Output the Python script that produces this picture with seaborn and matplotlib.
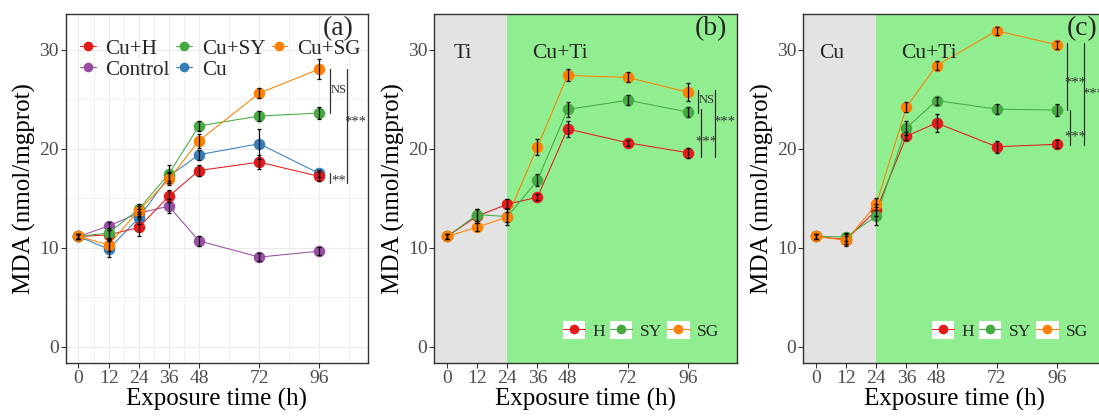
import numpy as np
import pandas as pd
import matplotlib
matplotlib.use("Agg")
import matplotlib.pyplot as plt
import seaborn as sns
from matplotlib.lines import Line2D
from matplotlib.patches import Rectangle
from matplotlib.legend_handler import HandlerTuple

# ---------------- data ----------------
times = [0, 12, 24, 36, 48, 72, 96]
xtick_labels = ["0", "12", "24", "36", "48", "72", "96"]

# panel (a)
a_groups = ["Control", "Cu", "Cu+H", "Cu+SY", "Cu+SG"]
a_control = [11.14, 12.2, 13.5, 14.2, 10.7, 9.06, 9.66]
a_control_err = [0.3, 0.4, 0.4, 0.7, 0.5, 0.4, 0.4]
a_cu = [11.14, 9.87, 13.0, 17.2, 19.4, 20.5, 17.5]
a_cu_err = [0.3, 0.8, 0.6, 0.5, 0.5, 1.5, 0.4]
a_cu_h = [11.14, 11.3, 12.05, 15.2, 17.8, 18.65, 17.2]
a_cu_h_err = [0.3, 0.5, 0.9, 0.6, 0.6, 0.7, 0.5]
a_cu_sy = [11.14, 11.5, 13.9, 17.45, 22.3, 23.3, 23.6]
a_cu_sy_err = [0.3, 0.5, 0.5, 0.9, 0.5, 0.5, 0.6]
a_cu_sg = [11.14, 10.3, 13.75, 16.9, 20.8, 25.6, 28.05]
a_cu_sg_err = [0.3, 0.6, 0.5, 0.6, 0.7, 0.5, 1.0]

# panel (b)
bc_groups = ["H", "SY", "SG"]
b_h = [11.14, 13.2, 14.4, 15.1, 22.0, 20.6, 19.6]
b_h_err = [0.3, 0.7, 0.5, 0.3, 0.8, 0.3, 0.5]
b_sy = [11.14, 13.35, 13.15, 16.8, 23.96, 24.9, 23.7]
b_sy_err = [0.3, 0.6, 0.9, 0.6, 0.8, 0.5, 0.5]
b_sg = [11.14, 12.08, 13.1, 20.17, 27.4, 27.2, 25.7]
b_sg_err = [0.3, 0.4, 0.5, 0.8, 0.6, 0.5, 0.9]

# panel (c)
c_h = [11.14, 10.83, 13.8, 21.26, 22.6, 20.2, 20.45]
c_h_err = [0.3, 0.6, 0.6, 0.4, 0.9, 0.6, 0.4]
c_sy = [11.14, 11.1, 13.2, 22.1, 24.86, 24.0, 23.9]
c_sy_err = [0.3, 0.4, 0.9, 0.7, 0.4, 0.5, 0.6]
c_sg = [11.14, 10.76, 14.4, 24.2, 28.4, 31.9, 30.5]
c_sg_err = [0.3, 0.4, 0.6, 0.5, 0.5, 0.4, 0.4]

# significance brackets: (x, y_top, y_bottom, label, label_x, label_y)
a_sig = [(100.2, 28.0, 23.56, "NS", 103.6, 25.9),
         (107.0, 28.0, 16.5, "***", 110.4, 23.0),
         (100.2, 17.6, 16.5, "**", 103.5, 17.1)]
b_sig = [(100.0, 25.97, 23.56, "NS", 103.3, 24.9),
         (101.1, 24.06, 19.13, "***", 103.3, 21.0),
         (106.9, 25.97, 19.13, "***", 110.4, 23.0)]
c_sig = [(100.0, 30.67, 23.95, "***", 103.4, 27.0),
         (101.0, 23.95, 20.38, "***", 103.4, 21.5),
         (106.9, 30.67, 20.38, "***", 110.4, 25.9)]

yticks = [0, 10, 20, 30]

# ---------------- style ----------------
sns.set_style("white")
plt.rcParams["font.family"] = ["Liberation Serif", "DejaVu Serif"]

colors = {"Control": "#984EA3", "Cu": "#377EB8", "Cu+H": "#E41A1C",
          "Cu+SY": "#45AA3F", "Cu+SG": "#FF7F00",
          "H": "#E41A1C", "SY": "#45AA3F", "SG": "#FF7F00"}

W, H = 1099, 417
fig = plt.figure(figsize=(W / 100, H / 100), dpi=100)

ax_h = (362.7 - 14) / H
ax_b = 1 - 362.7 / H
ax_w = 302.6 / W
axA = fig.add_axes([65.7 / W, ax_b, ax_w, ax_h])
axB = fig.add_axes([434.3 / W, ax_b, ax_w, ax_h])
axC = fig.add_axes([803.3 / W, ax_b, ax_w, ax_h])

MS = 8.3
LW = 0.75


def make_df(groups, vals, errs):
    rows = []
    for g, v, e in zip(groups, vals, errs):
        for t, vv, ee in zip(times, v, e):
            rows.append({"time": t, "mda": vv, "err": ee, "group": g})
    return pd.DataFrame(rows)


def draw_series(ax, df, groups):
    sns.lineplot(data=df, x="time", y="mda", hue="group", hue_order=groups,
                 palette=colors, marker="o", markersize=MS, markeredgewidth=0,
                 linewidth=LW, legend=False, errorbar=None, sort=False, ax=ax,
                 zorder=3)
    for g in groups:
        d = df[df.group == g]
        ax.errorbar(d.time, d.mda, yerr=d.err, fmt="none", ecolor="black",
                    elinewidth=0.9, capsize=1.2, capthick=0.9, zorder=4)


def style_axes(ax):
    ax.set_xlim(-5.1, 115.5)
    ax.set_ylim(-1.6, 33.6)
    ax.set_xticks(times)
    ax.set_xticklabels(xtick_labels)
    ax.set_yticks(yticks)
    ax.tick_params(axis="both", which="major", direction="out", length=3.5,
                   width=0.8, color="#333333", labelcolor="#4D4D4D",
                   labelsize=14, pad=1.5, left=True, bottom=True)
    for s in ax.spines.values():
        s.set_color("#333333")
        s.set_linewidth(1.0)
        s.set_zorder(10)
    ax.set_xlabel("Exposure time (h)", fontsize=18, color="black", labelpad=1)
    ax.set_ylabel("MDA (nmol/mgprot)", fontsize=18, color="black", labelpad=2)


def draw_sig(ax, sig):
    for x, y0, y1, lab, lx, ly in sig:
        ax.plot([x, x], [y0, y1], color="#333333", lw=0.9, zorder=5,
                clip_on=False)
        fs = 9 if lab == "NS" else 10.5
        dy = 0 if lab == "NS" else -0.35
        ax.text(lx, ly + dy, lab, fontsize=fs, ha="center", va="center",
                color="#333333", zorder=5, clip_on=False)


# ---------------- panel (a) ----------------
dfa = make_df(a_groups, [a_control, a_cu, a_cu_h, a_cu_sy, a_cu_sg],
              [a_control_err, a_cu_err, a_cu_h_err, a_cu_sy_err, a_cu_sg_err])
axA.set_facecolor("white")
for y in [0, 10, 20, 30]:
    axA.axhline(y, color="#EBEBEB", lw=0.8, zorder=0)
for y in [5, 15, 25]:
    axA.axhline(y, color="#EBEBEB", lw=0.45, zorder=0)
for x in times:
    axA.axvline(x, color="#EBEBEB", lw=0.8, zorder=0)
for x in [6, 18, 30, 42, 60, 84, 108]:
    axA.axvline(x, color="#EBEBEB", lw=0.45, zorder=0)
draw_series(axA, dfa, a_groups)
style_axes(axA)
draw_sig(axA, a_sig)
axA.text(103.6, 32.1, "(a)", fontsize=20, ha="center", va="center", zorder=6)

leg_order = ["Cu+H", "Control", "Cu+SY", "Cu", "Cu+SG"]
handles = [Line2D([], [], color=colors[g], marker="o", markersize=7,
                  markeredgewidth=0, lw=LW) for g in leg_order]
axA.legend(handles, leg_order, ncol=3, loc="upper left",
           bbox_to_anchor=(0.048, 0.928), frameon=False, fontsize=15.2,
           handlelength=0.75, handletextpad=0.45, columnspacing=0.3,
           labelspacing=0.05, borderpad=0, borderaxespad=0)

# ---------------- panels (b) & (c) ----------------
def draw_bc(ax, vals, errs, left_label, sig, panel_label, plx):
    ax.axvspan(-20, 24, color="#E3E3E3", lw=0, zorder=0)
    ax.axvspan(24, 130, color="#90EE90", lw=0, zorder=0)
    df = make_df(bc_groups, vals, errs)
    draw_series(ax, df, bc_groups)
    style_axes(ax)
    draw_sig(ax, sig)
    ax.text(6.3, 29.6, left_label, fontsize=15.5, ha="center", va="center")
    ax.text(45, 29.6, "Cu+Ti", fontsize=15.5, ha="center", va="center")
    ax.text(plx, 32.1, panel_label, fontsize=20, ha="center", va="center",
            zorder=6)
    hs = []
    for g in bc_groups:
        hs.append((Rectangle((0, 0), 1, 1, facecolor="white", edgecolor="none"),
                   Line2D([], [], color=colors[g], marker="o", markersize=7,
                          markeredgewidth=0, lw=LW)))
    ax.legend(hs, bc_groups, ncol=3, loc="lower right",
              bbox_to_anchor=(0.94, 0.065), frameon=False, fontsize=12.5,
              handler_map={tuple: HandlerTuple(ndivide=1)},
              handlelength=1.3, handleheight=1.2, handletextpad=0.4,
              columnspacing=0.3, borderpad=0, borderaxespad=0)


draw_bc(axB, [b_h, b_sy, b_sg], [b_h_err, b_sy_err, b_sg_err], "Ti", b_sig,
        "(b)", 105.3)
draw_bc(axC, [c_h, c_sy, c_sg], [c_h_err, c_sy_err, c_sg_err], "Cu", c_sig,
        "(c)", 106.2)

fig.savefig("out.png", dpi=100)
